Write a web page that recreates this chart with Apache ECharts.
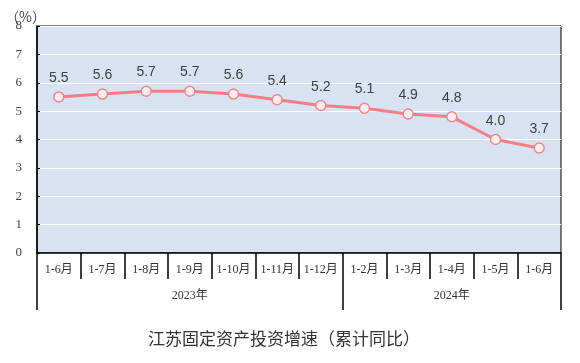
<!DOCTYPE html>
<html><head><meta charset="utf-8">
<script src="https://cdn.jsdelivr.net/npm/echarts@6/dist/echarts.min.js"></script>
<style>html,body{margin:0;padding:0;background:#fff}#c{width:580px;height:363px}</style>
</head><body><div id="c"></div>
<script>
const categories = ['1-6月','1-7月','1-8月','1-9月','1-10月','1-11月','1-12月','1-2月','1-3月','1-4月','1-5月','1-6月'];
const yearLabels = ['','','','2023年','','','','','','2024年','',''];
const yearStartIdx = [0, 7];
const values = [5.5, 5.6, 5.7, 5.7, 5.6, 5.4, 5.2, 5.1, 4.9, 4.8, 4.0, 3.7];
const yTicks = {min: 0, max: 8, interval: 1};
const titleText = '江苏固定资产投资增速（累计同比）';
const unitText = '（%）';

const serif = "'Liberation Serif', 'Noto Sans CJK SC', serif";
const chart = echarts.init(document.getElementById('c'), null, {renderer: 'canvas'});
chart.setOption({
  animation: false,
  backgroundColor: '#fff',
  title: [
    {text: titleText, left: 143, top: 325, textStyle: {fontSize: 17, fontWeight: 'normal', color: '#333', fontFamily: "'Noto Sans CJK SC', sans-serif"}},
    {text: unitText, left: 0, top: 5, textStyle: {fontSize: 14, fontWeight: 'normal', color: '#444', fontFamily: "'Noto Sans CJK SC', sans-serif"}}
  ],
  grid: {left: 37, right: 19, top: 26, bottom: 110, show: true, backgroundColor: '#D9E2F3', borderColor: '#000', borderWidth: 1},
  xAxis: [
    {type: 'category', data: categories, boundaryGap: true, position: 'bottom',
     axisLine: {show: true, lineStyle: {color: '#000', width: 1.5}},
     axisTick: {show: true, interval: 0, length: 26, lineStyle: {color: '#000', width: 1.5}},
     axisLabel: {interval: 0, margin: 11, fontSize: 12, color: '#333', fontFamily: serif}},
    {type: 'category', data: yearLabels, boundaryGap: true, position: 'bottom',
     axisLine: {show: false},
     axisTick: {show: true, length: 57, interval: (i) => yearStartIdx.includes(i), lineStyle: {color: '#000', width: 1.5}},
     axisLabel: {interval: 0, margin: 37, fontSize: 12, color: '#333', fontFamily: serif}}
  ],
  yAxis: {type: 'value', min: yTicks.min, max: yTicks.max, interval: yTicks.interval,
    axisLine: {show: true, lineStyle: {color: '#000', width: 1.5}},
    axisTick: {show: true, inside: true, length: 3, lineStyle: {color: '#000'}},
    axisLabel: {margin: 15, fontSize: 13, color: '#444', fontFamily: serif},
    splitLine: {show: true, lineStyle: {color: '#fff', width: 1.2}}},
  series: [{
    type: 'line', data: values, xAxisIndex: 0,
    symbol: 'circle', symbolSize: 10,
    lineStyle: {color: '#F57E84', width: 3},
    itemStyle: {color: '#FDEDEE', borderColor: '#F0868C', borderWidth: 1.5},
    label: {show: true, position: 'top', distance: 6, fontSize: 14, color: '#404040',
      fontFamily: "'Liberation Sans', sans-serif",
      formatter: (p) => p.value.toFixed(1)}
  }]
});
</script></body></html>
